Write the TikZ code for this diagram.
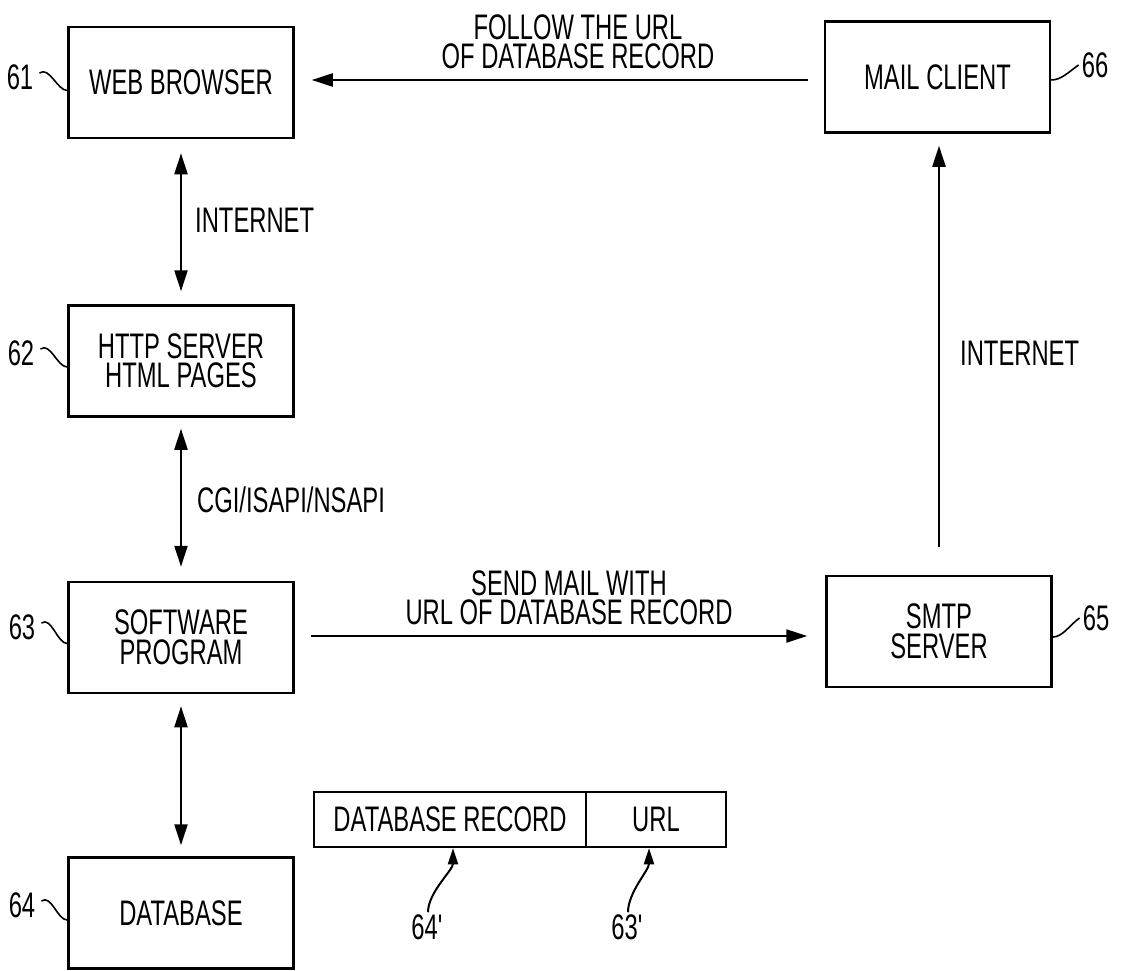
\documentclass[tikz,border=0pt]{standalone}
\usepackage{fontspec}
\setmainfont{Liberation Sans}[FakeStretch=0.67]
\usetikzlibrary{arrows.meta}

\begin{document}
\begin{tikzpicture}[x=1pt,y=-1pt,
  txt/.style={font=\fontsize{35.5}{29.5}\selectfont, inner sep=0pt},
  blk/.style={txt, draw, line width=2.5pt, minimum width=225pt, minimum height=111pt, align=center},
  cell/.style={txt, draw, line width=2.5pt, minimum height=55pt, align=center},
  oneway/.style={line width=2.2pt, -{Triangle[length=21pt,width=13pt]}},
  twoway/.style={line width=2.2pt, {Triangle[length=21pt,width=13pt]}-{Triangle[length=21pt,width=13pt]}},
  lead/.style={line width=1.6pt},
  pointer/.style={line width=2pt, -{Triangle[length=16pt,width=10pt]}}
]
\useasboundingbox (0,0) rectangle (1121,970);

% main blocks
\node[blk] (web)  at (181,82.5)  {WEB BROWSER};
\node[blk] (http) at (181,361)   {HTTP SERVER\\HTML PAGES};
\node[blk] (soft) at (181,637.5) {SOFTWARE\\PROGRAM};
\node[blk] (db)   at (181,913)   {DATABASE};
\node[blk] (mail) at (937.5,77)  {MAIL CLIENT};
\node[blk] (smtp) at (939,631.5) {SMTP\\SERVER};

% record layout
\node[cell, minimum width=272pt] (rec) at (450,819.5) {DATABASE RECORD};
\node[cell, minimum width=140pt] (url) at (656,819.5) {URL};

% reference numerals
\node[txt] (n61) at (20,77)   {61};
\node[txt] (n62) at (21,353)  {62};
\node[txt] (n63) at (22,627)  {63};
\node[txt] (n64) at (22,905)  {64};
\node[txt] (n66) at (1095,65) {66};
\node[txt] (n65) at (1096,618) {65};
\node[txt] (n64p) at (428,927) {64\textquotesingle};
\node[txt] (n63p) at (628,927) {63\textquotesingle};

% leader lines
\draw[lead] ([xshift=6pt,yshift=4pt]n61.east) .. controls +(10,-7) and +(-10,0) .. ([yshift=-8pt]web.west);
\draw[lead] ([xshift=6pt,yshift=4pt]n62.east) .. controls +(10,-7) and +(-10,0) .. ([yshift=-6pt]http.west);
\draw[lead] ([xshift=6pt,yshift=4pt]n63.east) .. controls +(10,-7) and +(-10,0) .. ([yshift=-6pt]soft.west);
\draw[lead] ([xshift=6pt,yshift=4pt]n64.east) .. controls +(10,-7) and +(-10,0) .. ([yshift=-7pt]db.west);
\draw[lead] ([yshift=-3pt]mail.east) .. controls +(10,0) and +(-10,7) .. ([xshift=-3pt]n66.west);
\draw[lead] ([yshift=-5.5pt]smtp.east) .. controls +(10,0) and +(-10,7) .. ([xshift=-3pt]n65.west);

% connections
\draw[twoway, shorten <=14pt, shorten >=13pt] (web) -- (http);
\draw[twoway, shorten <=11pt, shorten >=14pt] (http) -- (soft);
\draw[twoway, shorten <=12pt, shorten >=11pt] (soft) -- (db);
\draw[oneway, shorten <=16pt, shorten >=17pt] ([yshift=-3pt]mail.west) -- ([yshift=2.5pt]web.east);
\draw[oneway, shorten <=16pt, shorten >=18pt] ([yshift=1.5pt]soft.east) -- ([yshift=-4.5pt]smtp.west);
\draw[oneway, shorten <=28pt, shorten >=12pt] (smtp.north) -- (mail.south -| smtp.north);

% connector labels
\node[txt, anchor=west] (lnet1) at (195,220) {INTERNET};
\node[txt, anchor=west] (lcgi)  at (197,500) {CGI/ISAPI/NSAPI};
\node[txt, anchor=west] (lnet2) at (960,353) {INTERNET};
\node[txt, align=center] (lfollow) at (578,42) {FOLLOW THE URL\\OF DATABASE RECORD};
\node[txt, align=center] (lsend) at (569,598) {SEND MAIL WITH\\URL OF DATABASE RECORD};

% pointers to record fields
\draw[pointer, shorten <=2pt] (n64p.north) .. controls +(0,-22) and +(0,22) .. ([xshift=3pt]rec.south);
\draw[pointer, shorten <=2pt] (n63p.north) .. controls +(0,-22) and +(0,22) .. ([xshift=-7pt]url.south);
\end{tikzpicture}
\end{document}
